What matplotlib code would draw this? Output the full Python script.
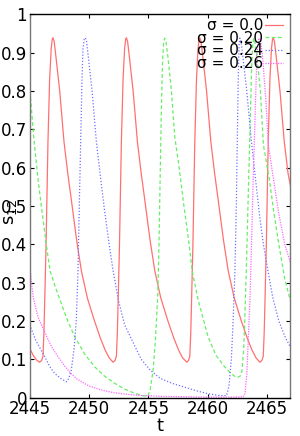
import matplotlib
matplotlib.use("Agg")
import matplotlib.pyplot as plt

# ---- data ----
t_s0 = [2445.0, 2445.3, 2445.6, 2445.84,
        2446.01, 2446.12, 2446.2, 2446.28, 2446.38, 2446.54, 2446.68, 2446.81, 2446.90, 2446.96,
        2447.06, 2447.21, 2447.53, 2447.89, 2448.21, 2448.51, 2448.96, 2449.36, 2449.86, 2450.46, 2450.96, 2451.36, 2451.71, 2452.03,
        2452.20, 2452.31, 2452.39, 2452.47, 2452.57, 2452.73, 2452.87, 2453.00, 2453.09, 2453.15,
        2453.25, 2453.40, 2453.72, 2454.08, 2454.40, 2454.70, 2455.15, 2455.55, 2456.05, 2456.65, 2457.15, 2457.55, 2457.90, 2458.25,
        2458.39, 2458.50, 2458.58, 2458.66, 2458.76, 2458.92, 2459.06, 2459.19, 2459.28, 2459.34,
        2459.44, 2459.59, 2459.91, 2460.27, 2460.59, 2460.89, 2461.34, 2461.74, 2462.24, 2462.84, 2463.34, 2463.74, 2464.09, 2464.41,
        2464.58, 2464.69, 2464.77, 2464.85, 2464.95, 2465.11, 2465.25, 2465.38, 2465.47, 2465.53,
        2465.63, 2465.78, 2466.10, 2466.46, 2466.78, 2467.0]
v_s0 = [0.128, 0.110, 0.097, 0.092,
        0.097, 0.108, 0.17, 0.27, 0.40, 0.668, 0.83, 0.91, 0.935, 0.939,
        0.93, 0.89, 0.80, 0.668, 0.585, 0.516, 0.41, 0.33, 0.26, 0.20, 0.155, 0.124, 0.103, 0.092,
        0.097, 0.108, 0.17, 0.27, 0.40, 0.668, 0.83, 0.91, 0.935, 0.939,
        0.93, 0.89, 0.80, 0.668, 0.585, 0.516, 0.41, 0.33, 0.26, 0.20, 0.155, 0.124, 0.103, 0.092,
        0.097, 0.108, 0.17, 0.27, 0.40, 0.668, 0.83, 0.91, 0.935, 0.939,
        0.93, 0.89, 0.80, 0.668, 0.585, 0.516, 0.41, 0.33, 0.26, 0.20, 0.155, 0.124, 0.103, 0.092,
        0.097, 0.108, 0.17, 0.27, 0.40, 0.668, 0.83, 0.91, 0.935, 0.939,
        0.93, 0.89, 0.80, 0.668, 0.585, 0.55]

t_s20 = [2445.0, 2445.05, 2445.36, 2445.7, 2445.98, 2446.35, 2446.72, 2447.2, 2447.66, 2448.2, 2448.79,
         2449.6, 2450.48, 2451.3, 2452.17, 2453.0, 2453.85, 2454.5, 2454.95,
         2455.15, 2455.4, 2455.6, 2455.8, 2455.9, 2456.0, 2456.1, 2456.2, 2456.3, 2456.38,
         2456.48, 2456.65, 2456.95, 2457.23, 2457.6, 2458.0, 2458.4, 2458.7, 2459.2, 2460.03, 2460.7,
         2461.44, 2462.0, 2462.3, 2462.56, 2462.75, 2462.9, 2463.05, 2463.15, 2463.26, 2463.4, 2463.55,
         2463.7, 2463.8, 2463.88, 2463.98, 2464.15, 2464.45, 2464.7, 2465.2, 2465.6, 2466.0, 2466.5, 2467.0]
v_s20 = [0.80, 0.79, 0.672, 0.57, 0.50, 0.41, 0.33, 0.285, 0.246, 0.20, 0.159,
         0.115, 0.080, 0.056, 0.037, 0.022, 0.011, 0.005, 0.003,
         0.02, 0.07, 0.15, 0.27, 0.40, 0.58, 0.75, 0.88, 0.93, 0.938,
         0.93, 0.89, 0.80, 0.68, 0.60, 0.50, 0.41, 0.33, 0.255, 0.159, 0.11,
         0.080, 0.062, 0.055, 0.053, 0.056, 0.07, 0.13, 0.22, 0.333, 0.50, 0.672,
         0.85, 0.92, 0.938, 0.93, 0.89, 0.80, 0.66, 0.57, 0.48, 0.40, 0.31, 0.25]

t_s24 = [2445.0, 2445.5, 2446.26, 2446.7, 2447.1, 2447.6, 2448.09, 2448.3, 2448.51, 2448.75, 2448.93,
         2449.07, 2449.18, 2449.3, 2449.4, 2449.49, 2449.6, 2449.69, 2449.79, 2449.94, 2450.26, 2450.62,
         2450.95, 2451.3, 2451.7, 2452.02, 2452.47, 2453.0, 2453.74, 2454.4, 2455.14, 2456.0, 2457.0,
         2457.95, 2459.0, 2460.0, 2461.0, 2461.6, 2461.8, 2462.0, 2462.15, 2462.3, 2462.42, 2462.5,
         2462.58, 2462.65, 2462.72, 2462.82, 2462.97, 2463.3, 2463.68, 2464.0, 2464.4, 2464.7, 2465.09,
         2465.5, 2466.0, 2466.5, 2467.0]
v_s24 = [0.19, 0.15, 0.107, 0.08, 0.063, 0.05, 0.041, 0.05, 0.072, 0.13, 0.202,
         0.33, 0.50, 0.67, 0.82, 0.91, 0.935, 0.939, 0.93, 0.89, 0.80, 0.668,
         0.58, 0.49, 0.40, 0.333, 0.255, 0.19, 0.142, 0.10, 0.072, 0.05, 0.037,
         0.028, 0.018, 0.010, 0.005, 0.005, 0.03, 0.10, 0.20, 0.33, 0.50, 0.67,
         0.83, 0.92, 0.938, 0.93, 0.89, 0.80, 0.672, 0.58, 0.47, 0.40, 0.33,
         0.26, 0.20, 0.16, 0.13]

t_s26 = [2445.0, 2445.15, 2445.3, 2445.7, 2446.2, 2446.8, 2447.3, 2448.0, 2448.5, 2449.0, 2450.0,
         2451.0, 2452.0, 2453.0, 2454.0, 2456.0, 2458.0, 2460.0, 2462.0, 2463.0, 2463.15, 2463.3,
         2463.45, 2463.57, 2463.7, 2463.85, 2463.97, 2464.1, 2464.2, 2464.3, 2464.38, 2464.48, 2464.63,
         2464.9, 2465.12, 2465.5, 2466.0, 2466.5, 2467.0]
v_s26 = [0.35, 0.30, 0.26, 0.21, 0.175, 0.135, 0.11, 0.08, 0.062, 0.048, 0.030,
         0.020, 0.013, 0.009, 0.006, 0.003, 0.002, 0.001, 0.001, 0.002, 0.01, 0.06,
         0.17, 0.255, 0.40, 0.58, 0.70, 0.84, 0.91, 0.935, 0.938, 0.93, 0.89,
         0.78, 0.66, 0.58, 0.48, 0.40, 0.35]

labels = ["σ = 0.0", "σ = 0.20", "σ = 0.24", "σ = 0.26"]
x_ticks = [2445, 2450, 2455, 2460, 2465]
y_ticks = [0, 0.1, 0.2, 0.3, 0.4, 0.5, 0.6, 0.7, 0.8, 0.9, 1]
y_ticklabels = ["0", "0.1", "0.2", "0.3", "0.4", "0.5", "0.6", "0.7", "0.8", "0.9", "1"]

plt.rcParams['font.family'] = ['Liberation Sans Narrow', 'DejaVu Sans']

fig = plt.figure(figsize=(3.0, 4.36), dpi=100)
ax = fig.add_axes([0.099, 0.0883, 0.8667, 0.8787])

ax.plot(t_s0, v_s0, color='#ff7070', lw=0.9, ls='-', label=labels[0])
ax.plot(t_s20, v_s20, color='#66ee66', lw=0.9, ls=(0, (3, 2)), label=labels[1])
ax.plot(t_s24, v_s24, color='#6f6fff', lw=0.9, ls=(0, (1, 1.5)), label=labels[2])
ax.plot(t_s26, v_s26, color='#ff66ff', lw=0.9, ls=(0, (1, 1)), label=labels[3])

ax.set_xlim(2445, 2466.92)
ax.set_ylim(0, 1)
ax.set_xticks(x_ticks)
ax.set_xticklabels([str(x) for x in x_ticks])
ax.set_yticks(y_ticks)
ax.set_yticklabels(y_ticklabels)
ax.tick_params(direction='in', length=3, width=0.8, top=True, right=True,
               labelsize=12, pad=2)
for sp in ax.spines.values():
    sp.set_linewidth(1.0)
ax.spines['left'].set_color('#777777')
ax.spines['right'].set_color('#777777')

ax.set_xlabel('t', fontsize=13)
ax.set_ylabel('s$_{12}$', fontsize=13)
ax.xaxis.set_label_coords(0.5, -0.052)
ax.yaxis.set_label_coords(-0.042, 0.485)

ax.legend(loc='upper right', bbox_to_anchor=(0.974, 0.99), frameon=False,
          markerfirst=False, handlelength=1.2, handletextpad=0.1,
          labelspacing=-0.16, fontsize=11, borderpad=0, borderaxespad=0)

fig.savefig('out.png', dpi=100)
